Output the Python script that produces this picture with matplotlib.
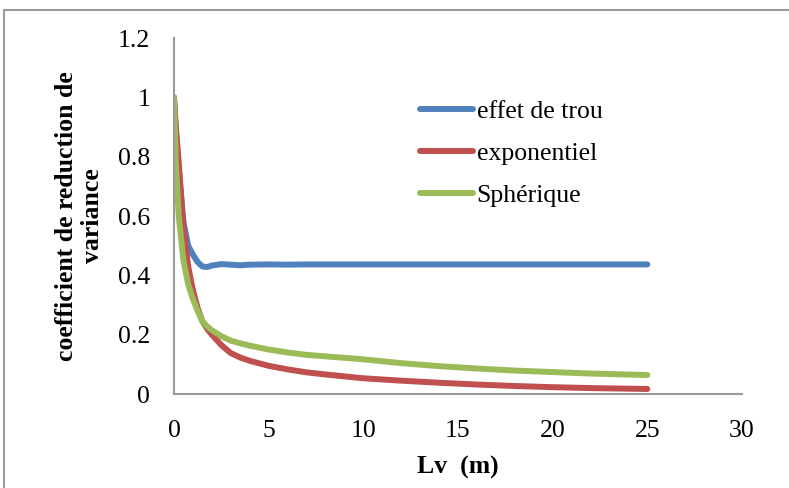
import matplotlib
matplotlib.use("Agg")
import matplotlib.pyplot as plt
from matplotlib.patches import Rectangle

plt.rcParams['font.family'] = ['Liberation Serif', 'DejaVu Serif']

# Lv (m)
lv = [0, 0.1, 0.25, 0.5, 0.75, 1, 1.25, 1.5, 1.75, 2, 2.5, 3, 3.5, 4, 5, 6, 7, 8,
      10, 12, 14, 16, 18, 20, 22, 25]

effet_de_trou = [1.0, 0.88, 0.76, 0.58, 0.50, 0.47, 0.445, 0.43, 0.428, 0.433, 0.438,
                 0.436, 0.434, 0.436, 0.437, 0.436, 0.437, 0.437,
                 0.437, 0.437, 0.437, 0.437, 0.437, 0.437, 0.437, 0.437]
exponentiel = [1.0, 0.90, 0.78, 0.56, 0.43, 0.35, 0.29, 0.245, 0.22, 0.20, 0.165,
               0.138, 0.123, 0.112, 0.095, 0.083, 0.073, 0.066,
               0.053, 0.045, 0.038, 0.032, 0.027, 0.023, 0.020, 0.017]
spherique = [1.0, 0.78, 0.60, 0.45, 0.37, 0.32, 0.28, 0.245, 0.228, 0.215, 0.195,
             0.18, 0.171, 0.163, 0.15, 0.14, 0.132, 0.127,
             0.117, 0.104, 0.094, 0.086, 0.079, 0.074, 0.069, 0.064]

x_ticks = [0, 5, 10, 15, 20, 25, 30]
y_ticks = [0, 0.2, 0.4, 0.6, 0.8, 1, 1.2]
y_tick_labels = ['0', '0.2', '0.4', '0.6', '0.8', '1', '1.2']

fig = plt.figure(figsize=(7.89, 4.88), dpi=100)
ax = fig.add_axes([0.2205, 0.1926, 0.7199, 0.7294])

ax.plot(lv, effet_de_trou, color='#4F81BD', lw=4.3, solid_capstyle='round',
        label='effet de trou')
ax.plot(lv, exponentiel, color='#C0504D', lw=4.3, solid_capstyle='round',
        label='exponentiel')
ax.plot(lv, spherique, color='#9BBB59', lw=4.3, solid_capstyle='round',
        label='Sphérique')

ax.set_xlim(0, 30)
ax.set_ylim(0, 1.2)
ax.set_xticks(x_ticks)
ax.set_yticks(y_ticks)
ax.set_yticklabels(y_tick_labels)
ax.tick_params(length=0, labelsize=18.5)
ax.tick_params(axis='y', pad=17)
ax.tick_params(axis='x', pad=19)

for side in ['top', 'right']:
    ax.spines[side].set_visible(False)
for side in ['left', 'bottom']:
    ax.spines[side].set_color('#9a9a9a')
    ax.spines[side].set_linewidth(1.5)

ax.set_xlabel('Lv  (m)', fontsize=18.5, fontweight='bold', labelpad=10)
ax.set_ylabel('coefficient de reduction de\nvariance', fontsize=18.5,
              fontweight='bold', labelpad=10, linespacing=1.2)

ax.legend(loc='upper left', bbox_to_anchor=(0.433, 0.826), frameon=False,
          fontsize=18.5, handlelength=2.06, handletextpad=0.15, labelspacing=0.74,
          borderaxespad=0, borderpad=0)

# outer chart border (as in the spreadsheet export)
fig.patches.append(Rectangle((4 / 789, -0.1), 1.2, 1 - 10 / 488 + 0.1,
                             transform=fig.transFigure, fill=False,
                             edgecolor='#9a9a9a', lw=1.5))

fig.savefig('out.png', dpi=100)
